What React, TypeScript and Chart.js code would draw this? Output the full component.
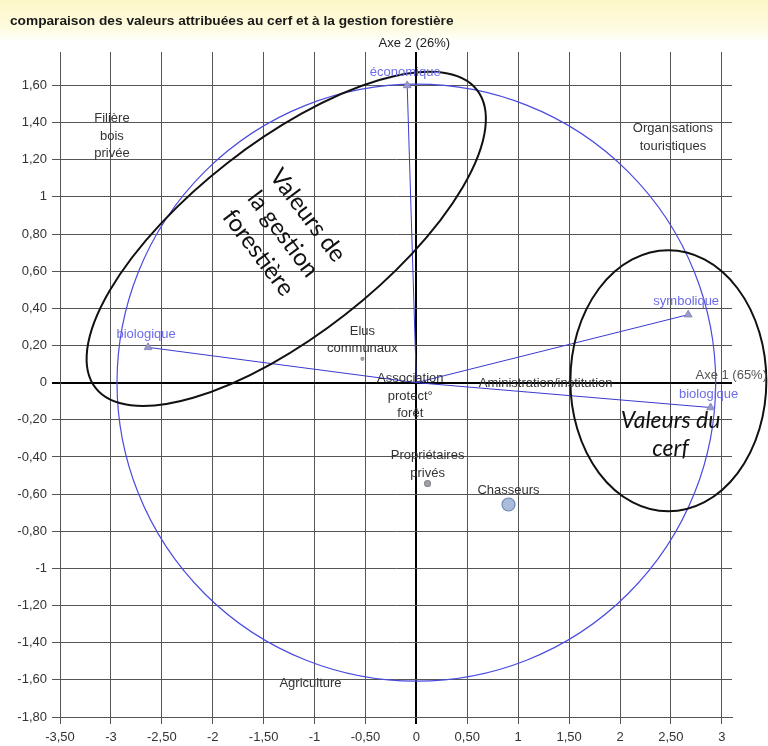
import React, { useEffect, useRef } from "react";
import { Chart, registerables } from "chart.js";

Chart.register(...registerables);

// ---------- data ----------
const TITLE = "comparaison des valeurs attribuées au cerf et à la gestion forestière";
const X_AXIS_TITLE = "Axe 1 (65%)";
const Y_AXIS_TITLE = "Axe 2 (26%)";

const X_TICKS = [-3.5, -3, -2.5, -2, -1.5, -1, -0.5, 0, 0.5, 1, 1.5, 2, 2.5, 3];
const X_TICK_LABELS = ["-3,50", "-3", "-2,50", "-2", "-1,50", "-1", "-0,50", "0", "0,50", "1", "1,50", "2", "2,50", "3"];
const Y_TICKS = [-1.8, -1.6, -1.4, -1.2, -1, -0.8, -0.6, -0.4, -0.2, 0, 0.2, 0.4, 0.6, 0.8, 1, 1.2, 1.4, 1.6];
const Y_TICK_LABELS = ["-1,80", "-1,60", "-1,40", "-1,20", "-1", "-0,80", "-0,60", "-0,40", "-0,20", "0", "0,20", "0,40", "0,60", "0,80", "1", "1,20", "1,40", "1,60"];
const X_MIN = -3.5;
const X_MAX = 3.1;
const Y_MIN = -1.8;
const Y_MAX = 1.78;

// variables (vectors of the correlation circle)
const VARIABLE_NAMES = ["économique", "biologique", "symbolique", "biologique"];
const VARIABLE_X = [-0.09, -2.635, 2.67, 2.89];
const VARIABLE_Y = [1.6, 0.19, 0.366, -0.134];

// groups of actors (individuals)
const GROUP_NAMES = [
  ["Filière", "bois", "privée"],
  ["Organisations", "touristiques"],
  ["Elus", "communaux"],
  ["Association", "protect°", "forêt"],
  ["Aministration/institution"],
  ["Propriétaires", "privés"],
  ["Chasseurs"],
  ["Agriculture"],
];
const GROUP_X = [-2.99, 2.52, -0.53, -0.06, 1.27, 0.11, 0.905, -1.04];
const GROUP_Y = [1.18, 1.22, 0.128, -0.22, -0.06, -0.543, -0.656, -1.672];

// annotation groups
const ZONE_LEFT_TEXT = ["Valeurs de", "la gestion", "forestière"];
const ZONE_RIGHT_TEXT = ["Valeurs du", "cerf"];
const ZONE_LEFT_CENTER = { x: -1.278, y: 0.774 };
const ZONE_RIGHT_CENTER = { x: 2.475, y: 0.01 };
const ZONE_LEFT_TEXT_CENTER = { x: -1.31, y: 0.8 };
const ZONE_RIGHT_TEXT_CENTER = { x: 2.497, y: -0.28 };

// ---------- styles ----------
const FONT = '"Liberation Sans", Arial, sans-serif';
const MARKER_STYLE: Record<string, { r: number; fill: string; stroke: string }> = {
  "Elus communaux": { r: 1.5, fill: "#aaaaaa", stroke: "#999999" },
  "Propriétaires privés": { r: 3, fill: "#a0a0a8", stroke: "#8a8a95" },
  Chasseurs: { r: 6.5, fill: "#a9bddb", stroke: "#7088b5" },
};

const overlayPlugin = {
  id: "overlay",
  beforeDraw(chart: any) {
    const { ctx, width, height } = chart;
    ctx.save();
    ctx.fillStyle = "#ffffff";
    ctx.fillRect(0, 0, width, height);
    const g = ctx.createLinearGradient(0, 0, 0, 42);
    g.addColorStop(0, "#fcf7c6");
    g.addColorStop(0.7, "#fefbe2");
    g.addColorStop(1, "#ffffff");
    ctx.fillStyle = g;
    ctx.fillRect(0, 0, width, 42);
    ctx.font = `bold 13.7px ${FONT}`;
    ctx.fillStyle = "#1a1a1a";
    ctx.textBaseline = "middle";
    ctx.textAlign = "left";
    ctx.fillText(TITLE, 10, 21);
    ctx.restore();
  },
  beforeDatasetsDraw(chart: any) {
    const { ctx } = chart;
    const xs = chart.scales.x;
    const ys = chart.scales.y;
    const cx = xs.getPixelForValue(0);
    const cy = ys.getPixelForValue(0);
    const rx = Math.abs(xs.getPixelForValue(2.94) - cx);
    const ry = Math.abs(ys.getPixelForValue(1.607) - cy);
    ctx.save();
    ctx.strokeStyle = "#4a4ae0";
    ctx.lineWidth = 1.2;
    ctx.beginPath();
    ctx.ellipse(cx, cy, rx, ry, 0, 0, Math.PI * 2);
    ctx.stroke();
    ctx.restore();
  },
  afterDatasetsDraw(chart: any) {
    const { ctx } = chart;
    const xs = chart.scales.x;
    const ys = chart.scales.y;
    const px = (v: number) => xs.getPixelForValue(v);
    const py = (v: number) => ys.getPixelForValue(v);
    ctx.save();

    // zone ellipses
    ctx.strokeStyle = "#111111";
    ctx.lineWidth = 2;
    ctx.beginPath();
    ctx.ellipse(px(ZONE_LEFT_CENTER.x), py(ZONE_LEFT_CENTER.y), 242, 96, (-38 * Math.PI) / 180, 0, Math.PI * 2);
    ctx.stroke();
    ctx.beginPath();
    ctx.ellipse(px(ZONE_RIGHT_CENTER.x), py(ZONE_RIGHT_CENTER.y), 98, 130.5, 0, 0, Math.PI * 2);
    ctx.stroke();

    // zone texts
    ctx.fillStyle = "#111111";
    ctx.textAlign = "center";
    ctx.textBaseline = "middle";
    ctx.save();
    ctx.translate(px(ZONE_LEFT_TEXT_CENTER.x), py(ZONE_LEFT_TEXT_CENTER.y));
    ctx.rotate((53 * Math.PI) / 180);
    ctx.font = `24px Lato, "Open Sans", sans-serif`;
    ZONE_LEFT_TEXT.forEach((t, i) => ctx.fillText(t, 0, (i - 1) * 31));
    ctx.restore();
    ctx.font = `italic 23px Lato, "Open Sans", sans-serif`;
    ZONE_RIGHT_TEXT.forEach((t, i) =>
      ctx.fillText(t, px(ZONE_RIGHT_TEXT_CENTER.x), py(ZONE_RIGHT_TEXT_CENTER.y) + (i - 0.5) * 28)
    );

    // variable labels
    ctx.font = `13px ${FONT}`;
    ctx.fillStyle = "#6c6cec";
    VARIABLE_NAMES.forEach((n, i) => {
      ctx.fillText(n, px(VARIABLE_X[i]) - 2, py(VARIABLE_Y[i]) - 13);
    });

    // group labels
    ctx.fillStyle = "#333333";
    GROUP_NAMES.forEach((lines, i) => {
      const key = lines.join(" ");
      const st = MARKER_STYLE[key];
      const off = st ? Math.max(10, st.r + 7.5) : 10;
      const x = px(GROUP_X[i]);
      const yLast = py(GROUP_Y[i]) - off;
      lines.forEach((t, j) => {
        ctx.fillText(t, x, yLast - (lines.length - 1 - j) * 17.5);
      });
    });

    // axis titles
    ctx.fillStyle = "#222222";
    ctx.fillText(Y_AXIS_TITLE, px(0) - 2, chart.chartArea.top - 9);
    ctx.fillStyle = "#555555";
    ctx.textAlign = "right";
    ctx.fillText(X_AXIS_TITLE, chart.width - 1, py(0) - 7);
    ctx.restore();
  },
};

export default function App() {
  const ref = useRef<HTMLCanvasElement | null>(null);

  useEffect(() => {
    if (!ref.current) return;

    const vectorSets = VARIABLE_NAMES.map((name, i) => ({
      label: name,
      data: [
        { x: 0, y: 0 },
        { x: VARIABLE_X[i], y: VARIABLE_Y[i] },
      ],
      showLine: true,
      borderColor: "#3a3ad2",
      borderWidth: 1,
      pointRadius: [0, 4.5],
      pointStyle: "triangle",
      pointBackgroundColor: "#9a9acb",
      pointBorderColor: "#8a8ac0",
      pointBorderWidth: 1,
      clip: false as any,
    }));

    const groupKeys = GROUP_NAMES.map((l) => l.join(" "));
    const groupSet = {
      label: "groupes",
      data: GROUP_X.map((x, i) => ({ x, y: GROUP_Y[i] })),
      showLine: false,
      pointRadius: groupKeys.map((k) => (MARKER_STYLE[k] ? MARKER_STYLE[k].r : 0)),
      pointBackgroundColor: groupKeys.map((k) => (MARKER_STYLE[k] ? MARKER_STYLE[k].fill : "rgba(0,0,0,0)")),
      pointBorderColor: groupKeys.map((k) => (MARKER_STYLE[k] ? MARKER_STYLE[k].stroke : "rgba(0,0,0,0)")),
      pointBorderWidth: 1.2,
    };

    const gridColor = (c: any) => (c.tick && c.tick.value === 0 ? "#000000" : "#555555");
    const gridWidth = (c: any) => (c.tick && c.tick.value === 0 ? 2 : 1);

    const chart = new Chart(ref.current, {
      type: "scatter",
      data: { datasets: [...vectorSets, groupSet] as any },
      options: {
        animation: false,
        responsive: false,
        devicePixelRatio: 1,
        layout: { padding: { left: 0, right: 36, top: 52, bottom: 0 } },
        plugins: { legend: { display: false }, tooltip: { enabled: false }, title: { display: false } },
        scales: {
          x: {
            type: "linear",
            min: X_MIN,
            max: X_MAX,
            afterBuildTicks: (s: any) => {
              s.ticks = X_TICKS.map((v) => ({ value: v }));
            },
            afterFit: (s: any) => {
              s.height = 29;
            },
            ticks: {
              autoSkip: false,
              maxRotation: 0,
              padding: 6,
              color: "#333333",
              font: { family: FONT, size: 13 },
              callback: (_v: any, i: number) => X_TICK_LABELS[i],
            },
            grid: { color: gridColor, lineWidth: gridWidth, tickLength: 7, drawTicks: true },
            border: { display: true, color: "#555555", width: 1 },
          },
          y: {
            type: "linear",
            min: Y_MIN,
            max: Y_MAX,
            afterBuildTicks: (s: any) => {
              s.ticks = Y_TICKS.map((v) => ({ value: v }));
            },
            afterFit: (s: any) => {
              s.width = 60;
            },
            ticks: {
              autoSkip: false,
              padding: 5,
              color: "#333333",
              font: { family: FONT, size: 13 },
              callback: (_v: any, i: number) => Y_TICK_LABELS[i],
            },
            grid: { color: gridColor, lineWidth: gridWidth, tickLength: 8, drawTicks: true },
            border: { display: true, color: "#555555", width: 1 },
          },
        },
      } as any,
      plugins: [overlayPlugin],
    });

    return () => chart.destroy();
  }, []);

  return (
    <div style={{ position: "absolute", left: 0, top: 0, width: 768, height: 746 }}>
      <canvas ref={ref} width={768} height={746} style={{ width: 768, height: 746, display: "block" }} />
    </div>
  );
}
